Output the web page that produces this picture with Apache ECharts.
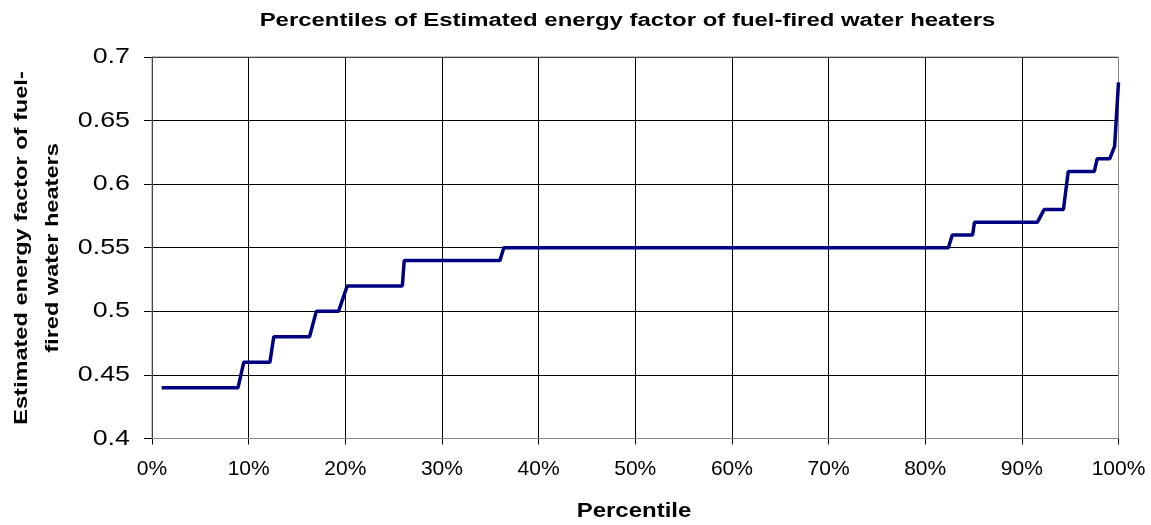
<!DOCTYPE html>
<html>
<head>
<meta charset="utf-8">
<script src="https://cdn.jsdelivr.net/npm/echarts@6/dist/echarts.min.js"></script>
<style>
html,body{margin:0;padding:0;background:#fff;}
#chart{width:1151px;height:525px;}
</style>
</head>
<body>
<div id="chart"></div>
<script>
const chartTitle = 'Percentiles of Estimated energy factor of fuel-fired water heaters';
const xAxisTitle = 'Percentile';
const yAxisTitle = 'Estimated energy factor of fuel-\nfired water heaters';
const yTickLabels = ['0.4', '0.45', '0.5', '0.55', '0.6', '0.65', '0.7'];
const percentiles = [1, 8.9, 9.5, 12.2, 12.6, 16.3, 17.0, 19.3, 20.2, 25.9, 26.1, 36.0, 36.4, 82.4, 82.8, 84.9, 85.1, 91.6, 92.3, 94.3, 94.8, 97.5, 97.8, 99.1, 99.6, 100];
const energyFactor = [0.44, 0.44, 0.46, 0.46, 0.48, 0.48, 0.50, 0.50, 0.52, 0.52, 0.54, 0.54, 0.55, 0.55, 0.56, 0.56, 0.57, 0.57, 0.58, 0.58, 0.61, 0.61, 0.62, 0.62, 0.63, 0.68];

const FONT = '"Liberation Sans", Arial, sans-serif';
const chart = echarts.init(document.getElementById('chart'), null, {renderer: 'canvas'});
const seriesData = percentiles.map((p, i) => [p, energyFactor[i]]);

const option = {
  animation: false,
  backgroundColor: '#ffffff',
  grid: {left: 152, right: 32.5, top: 57, bottom: 86.5, containLabel: false},
  xAxis: {
    type: 'value', min: 0, max: 100, interval: 10,
    axisLine: {show: true, lineStyle: {color: '#000', width: 1}},
    axisTick: {show: true, length: 6, lineStyle: {color: '#000'}},
    axisLabel: {margin: 20, fontFamily: FONT, fontSize: 21, color: '#000', formatter: v => v + '%'},
    splitLine: {show: true, lineStyle: {color: '#000', width: 1}}
  },
  yAxis: {
    type: 'value', min: 0.4, max: 0.7, interval: 0.05,
    axisLine: {show: true, lineStyle: {color: '#000', width: 1}},
    axisTick: {show: true, length: 8, lineStyle: {color: '#000'}},
    axisLabel: {show: false},
    splitLine: {show: true, lineStyle: {color: '#000', width: 1}}
  },
  series: [{
    type: 'line', data: seriesData, showSymbol: false, symbol: 'none',
    lineStyle: {color: '#000080', width: 3.5}, z: 200
  }]
};
chart.setOption(option);

const graphics = [
  {
    type: 'text', x: 627.5, y: 21, scaleX: 1.33,
    style: {text: chartTitle, fontFamily: FONT, fontSize: 18, fontWeight: 'bold', fill: '#000',
            textAlign: 'center', textVerticalAlign: 'middle'}
  },
  {
    type: 'text', x: 634, y: 511, scaleX: 1.2,
    style: {text: xAxisTitle, fontFamily: FONT, fontSize: 20, fontWeight: 'bold', fill: '#000',
            textAlign: 'center', textVerticalAlign: 'middle'}
  },
  {
    type: 'text', x: 37, y: 248, rotation: Math.PI / 2, scaleX: 1.24,
    style: {text: yAxisTitle, fontFamily: FONT, fontSize: 19, fontWeight: 'bold', fill: '#000',
            textAlign: 'center', textVerticalAlign: 'middle', lineHeight: 31}
  },
  {
    type: 'rect', shape: {x: 152, y: 57, width: 966.5, height: 381.5}, z: 100, silent: true,
    style: {fill: 'none', stroke: '#888', lineWidth: 1}
  }
];
yTickLabels.forEach(lbl => {
  const py = chart.convertToPixel({gridIndex: 0}, [0, parseFloat(lbl)])[1];
  graphics.push({
    type: 'text', x: 130, y: py, scaleX: 1.22,
    style: {text: lbl, fontFamily: FONT, fontSize: 22, fill: '#000', textAlign: 'right', textVerticalAlign: 'middle'}
  });
});
chart.setOption({graphic: graphics});
</script>
</body>
</html>
